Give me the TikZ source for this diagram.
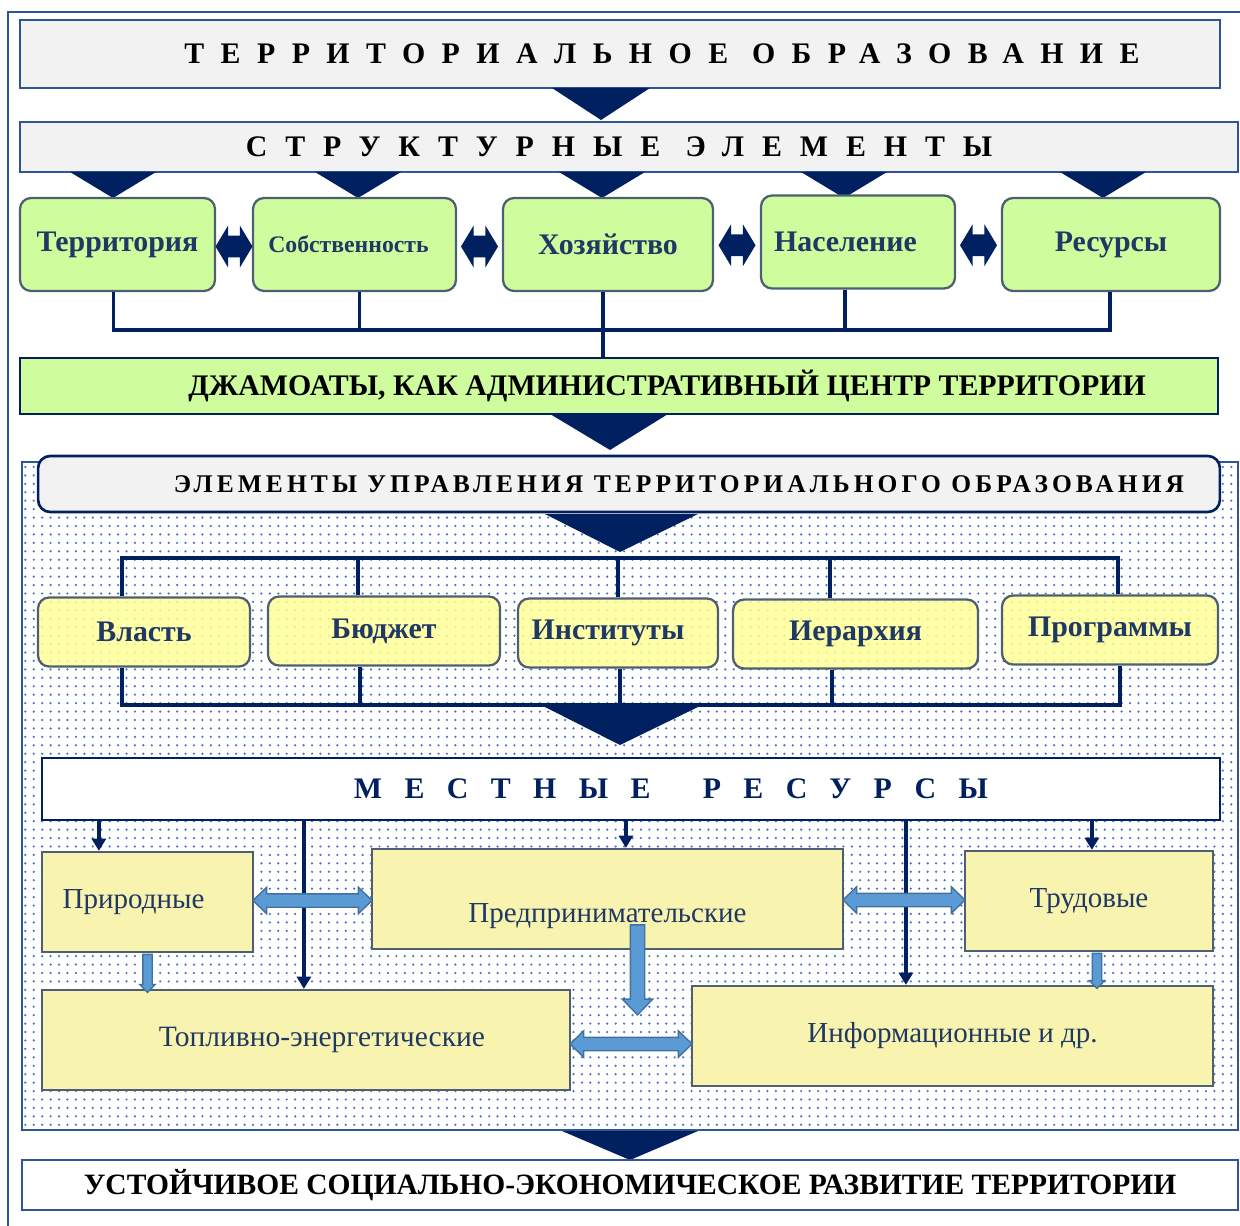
\documentclass[tikz,border=0pt]{standalone}
\usepackage{fontspec}
\setmainfont{Liberation Serif}
\usetikzlibrary{calc,shapes.arrows,patterns.meta,arrows.meta}
\definecolor{navy}{HTML}{002060}
\definecolor{frameblue}{HTML}{2F5597}
\definecolor{boxgray}{HTML}{F2F2F2}
\definecolor{leafgreen}{HTML}{CFFD9E}
\definecolor{paleyellow}{HTML}{FFFF99}
\definecolor{resyellow}{HTML}{F8F4AF}
\definecolor{textnavy}{HTML}{1F3864}
\definecolor{slate}{HTML}{4F5F73}
\definecolor{lightblue}{HTML}{5B9BD5}
\definecolor{edgeblue}{HTML}{41719C}
\definecolor{dotblue}{HTML}{4472C4}
\tikzdeclarepattern{
  name=bluedots,
  type=uncolored,
  bounding box={(-2.4pt,-2.4pt) and (2.4pt,2.4pt)},
  tile size={(4.8pt,4.8pt)},
  code={\pgfpathcircle{\pgfpointorigin}{0.7pt}\pgfusepath{fill}}
}
\tikzset{
  headbox/.style={draw=frameblue, line width=1.3pt, fill=boxgray, inner sep=0pt},
  greenbox/.style={draw=slate, line width=1.3pt, fill=leafgreen, rounded corners=0.22cm, inner sep=0pt,
    minimum height=1.86cm, text=textnavy, font=\fontsize{17}{20}\selectfont\bfseries},
  yellowbox/.style={draw=slate, line width=1.3pt, fill=paleyellow, fill opacity=0.85, text opacity=1,
    rounded corners=0.22cm, inner sep=0pt, minimum height=1.38cm, text=textnavy, font=\fontsize{17}{20}\selectfont\bfseries},
  resbox/.style={draw=slate, line width=1.3pt, fill=resyellow, inner sep=0pt, minimum height=2cm,
    text=textnavy, font=\fontsize{16.5}{20}\selectfont},
  conn/.style={draw=navy, line width=2.2pt},
  chevron/.style={fill=navy},
  navyarrow/.style={draw=navy, line width=2pt, -{Triangle[length=7pt,width=8pt]}},
  linkarrow/.style={shape=double arrow, fill=navy, inner xsep=0pt, inner ysep=0.21cm, minimum height=0.74cm,
    minimum width=0.82cm, double arrow head extend=0.2cm, double arrow tip angle=118},
  bluelink/.style={shape=double arrow, fill=lightblue, draw=edgeblue, line width=0.8pt, inner xsep=0pt,
    inner ysep=0.12cm, minimum width=0.5cm, double arrow head extend=0.13cm, double arrow tip angle=88},
  bluedown/.style={shape=single arrow, shape border rotate=270, fill=lightblue, draw=edgeblue, line width=0.8pt,
    single arrow tip angle=88}
}
\begin{document}
\begin{tikzpicture}[x=0.02cm,y=-0.02cm]
      \useasboundingbox (0,0) rectangle (1240,1226);
      \draw[frameblue, line width=1.2pt] (8,1226) -- (8,12) -- (1240,12); % outer frame

      %%% upper part
      \node[headbox, minimum width=24cm, minimum height=1.36cm, font=\fontsize{17}{20}\selectfont\bfseries\addfontfeatures{LetterSpace=55}] (terrobr) at (620,54) {\hspace*{1.68cm}ТЕРРИТОРИАЛЬНОЕ ОБРАЗОВАНИЕ}; % title
      \node[headbox, minimum width=24.36cm, minimum height=1cm, font=\fontsize{17}{20}\selectfont\bfseries\addfontfeatures{LetterSpace=60}] (struct) at (629,147) {СТРУКТУРНЫЕ ЭЛЕМЕНТЫ\hspace*{0.4cm}}; % elements
      \fill[chevron] (552,88) -- (650,88) -- (601,120) -- cycle; % down mark
      \foreach \cx in {113,358,602,844,1103}
        \fill[chevron] (\cx-43,172) -- (\cx+43,172) -- (\cx,198) -- cycle; % down marks

      \node[greenbox, minimum width=3.9cm] (terr) at (117.5,244.5) {Территория};
      \node[greenbox, minimum width=4.06cm, font=\fontsize{13.5}{16}\selectfont\bfseries] (sobst) at (354.5,244.5) {Собственность\hspace*{0.24cm}};
      \node[greenbox, minimum width=4.2cm] (hoz) at (608,244.5) {Хозяйство};
      \node[greenbox, minimum width=3.88cm] (nasel) at (858,242) {Население\hspace*{0.5cm}};
      \node[greenbox, minimum width=4.36cm] (resurs) at (1111,244.5) {Ресурсы};
      \node[linkarrow] (l1) at ($(terr.east)!0.5!(sobst.west)+(0,2)$) {}; % links
      \node[linkarrow] (l2) at ($(sobst.east)!0.5!(hoz.west)+(0,2)$) {};
      \node[linkarrow] (l3) at ($(hoz.east)!0.5!(nasel.west)+(0,2)$) {};
      \node[linkarrow] (l4) at ($(nasel.east)!0.5!(resurs.west)+(0,2)$) {};

      \node[draw=navy, line width=1.5pt, fill=leafgreen, minimum width=23.96cm, minimum height=1.12cm, inner sep=0pt, font=\fontsize{17}{20}\selectfont\bfseries] (dzh) at (619,386) {\hspace*{1.92cm}ДЖАМОАТЫ, КАК АДМИНИСТРАТИВНЫЙ ЦЕНТР ТЕРРИТОРИИ};
      \coordinate (gbus) at (603,330);
      \draw[conn] ($(terr.south)+(-4,0)$) |- (gbus); % wiring
      \draw[conn] ($(sobst.south)+(5,0)$) |- (gbus); % wiring
      \draw[conn] ($(nasel.south)+(-13,0)$) |- (gbus); % wiring
      \draw[conn] ($(resurs.south)+(-1,0)$) |- (gbus); % wiring
      \draw[conn] ($(hoz.south)+(-5,0)$) -- (gbus) -- (gbus |- dzh.north); % wiring
      \fill[chevron] (550,414) -- (668,414) -- (610,450) -- cycle; % down mark

      %%% management block
      \draw[frameblue, line width=1.2pt, pattern=bluedots, pattern color=dotblue] (22,462) rectangle (1238,1130);
      \node[draw=navy, line width=1.5pt, fill=boxgray, rounded corners=0.24cm, minimum width=23.64cm, minimum height=1.12cm, inner sep=0pt, font=\fontsize{14.5}{17}\selectfont\bfseries\addfontfeatures{LetterSpace=16}] (elem) at (629,484) {\hspace*{2cm}ЭЛЕМЕНТЫ УПРАВЛЕНИЯ ТЕРРИТОРИАЛЬНОГО ОБРАЗОВАНИЯ};
      \fill[chevron] (545,514) -- (698,514) -- (620,552) -- cycle; % down mark

      \node[yellowbox, minimum width=4.24cm] (vlast) at (144,632) {Власть};
      \node[yellowbox, minimum width=4.64cm] (budzh) at (384,631) {Бюджет};
      \node[yellowbox, minimum width=4cm] (inst) at (618,633) {Институты\hspace*{0.4cm}};
      \node[yellowbox, minimum width=4.9cm] (ierar) at (855.5,634) {Иерархия};
      \node[yellowbox, minimum width=4.32cm] (progr) at (1110,630) {Программы};
      \coordinate (ubus) at (620,558);
      \coordinate (lbus) at (620,705);
      \draw[conn] ($(vlast.north)+(-22,0)$) |- (ubus); % upper bracket
      \draw[conn] ($(budzh.north)+(-26,0)$) |- (ubus);
      \draw[conn] (inst.north) |- (ubus);
      \draw[conn] ($(ierar.north)+(-25.5,0)$) |- (ubus);
      \draw[conn] ($(progr.north)+(8,0)$) |- (ubus);
      \draw[conn] ($(vlast.south)+(-22,0)$) |- (lbus); % lower bracket
      \draw[conn] ($(budzh.south)+(-24,0)$) |- (lbus);
      \draw[conn] ($(inst.south)+(2,0)$) |- (lbus);
      \draw[conn] ($(ierar.south)+(-23.5,0)$) |- (lbus);
      \draw[conn] ($(progr.south)+(10,0)$) |- (lbus);
      \fill[chevron] (545,707) -- (698,707) -- (620,745) -- cycle; % down mark

      %%% local resources
      \node[draw=navy, line width=1.5pt, fill=white, minimum width=23.56cm, minimum height=1.24cm, inner sep=0pt, text=navy, font=\fontsize{17}{20}\selectfont\bfseries\addfontfeatures{LetterSpace=75}] (mest) at (631,789) {\hspace*{1.6cm}МЕСТНЫЕ\hspace{0.45cm} РЕСУРСЫ};
      \node[resbox, minimum width=4.22cm] (prir) at (147.5,902) {Природные\hspace*{0.56cm}};
      \node[resbox, minimum width=9.42cm, text height=31pt, text depth=4.5pt] (pred) at (607.5,899) {Предпринимательские};
      \node[resbox, minimum width=4.96cm] (trud) at (1089,901) {Трудовые};
      \node[resbox, minimum width=10.56cm, font=\fontsize{16.8}{20}\selectfont] (topl) at (306,1040) {\hspace*{0.64cm}Топливно-энергетические};
      \node[resbox, minimum width=10.42cm] (inform) at (952.5,1036) {Информационные и др.};

      \coordinate (p1) at ($(prir.north west)+(58,0)$);
      \coordinate (p2) at ($(topl.north west)+(263,0)$);
      \coordinate (p3) at ($(pred.north west)+(255,0)$);
      \coordinate (p4) at ($(inform.north west)+(215,0)$);
      \coordinate (p5) at ($(trud.north west)+(128,0)$);
      \foreach \p in {p1,p2,p3,p4,p5}
        \draw[navyarrow] (\p |- mest.south) -- (\p); % resource arrows

      \node[bluelink, minimum height=2.38cm] (b1) at ($(prir.east)!0.5!(pred.west)$) {};
      \node[bluelink, minimum height=2.44cm] (b2) at ($(pred.east)!0.5!(trud.west)$) {};
      \node[bluelink, minimum height=2.44cm] (b3) at ($(topl.east)!0.5!(inform.west)+(0,6)$) {};
      \node[bluedown, inner sep=0.08cm, minimum height=0.76cm, minimum width=0.28cm, single arrow head extend=0.06cm] (d1) at ($(prir.south)!0.5!(prir.south |- topl.north)$) {};
      \coordinate (t2) at ($(trud.south)+(8,0)$);
      \node[bluedown, inner sep=0.08cm, minimum height=0.7cm, minimum width=0.28cm, single arrow head extend=0.06cm] (d2) at ($(t2)!0.5!(t2 |- inform.north)$) {};
      \node[bluedown, inner sep=0.13cm, minimum height=1.8cm, minimum width=0.58cm, single arrow head extend=0.16cm] (d3) at ($(pred.south)+(30,16)$) {};

      %%% result
      \fill[chevron] (562,1131) -- (698,1131) -- (630,1160) -- cycle; % down mark
      \node[draw=frameblue, line width=1.3pt, fill=white, minimum width=24.32cm, minimum height=1cm, inner sep=0pt, font=\fontsize{16.8}{20}\selectfont\bfseries] (goal) at (630,1185) {УСТОЙЧИВОЕ СОЦИАЛЬНО-ЭКОНОМИЧЕСКОЕ РАЗВИТИЕ ТЕРРИТОРИИ};
\end{tikzpicture}
\end{document}
